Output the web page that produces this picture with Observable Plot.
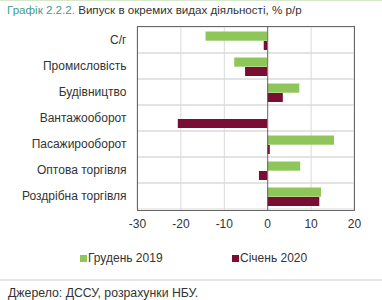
<!DOCTYPE html>
<html><head><meta charset="utf-8">
<script src="https://cdn.jsdelivr.net/npm/d3@7"></script>
<script src="https://cdn.jsdelivr.net/npm/@observablehq/plot@0.6"></script>
<style>
html,body{margin:0;padding:0;background:#fff;}
#wrap{position:relative;width:382px;height:300px;overflow:hidden;font-family:"Liberation Sans",Arial,sans-serif;color:#333;border-top:1px solid #d6e8cc;box-sizing:border-box;}
#title{position:absolute;left:7px;top:2px;font-size:11.6px;white-space:nowrap;color:#333;}
#title .num{color:#3f9c8a;}
#chart{position:absolute;left:0;top:17px;}
#legend{position:absolute;top:250px;left:0;width:382px;font-size:12px;}
#legend .item{position:absolute;white-space:nowrap;}
#legend .sw{display:inline-block;width:7px;height:7px;margin-right:1px;}
#sep{position:absolute;left:0;top:278px;width:382px;height:2px;background:#e6e6e6;}
#source{position:absolute;left:8px;top:285px;font-size:12.3px;white-space:nowrap;color:#333;}
</style></head>
<body><div id="wrap">
<div id="title"><span class="num">Графік 2.2.2.</span> Випуск в окремих видах діяльності, % р/р</div>
<div id="chart"></div>
<div id="legend"></div>
<div id="sep"></div>
<div id="source">Джерело: ДССУ, розрахунки НБУ.</div>
</div>
<script>
const categories = ["С/г","Промисловість","Будівництво","Вантажооборот","Пасажирооборот","Оптова торгівля","Роздрібна торгівля"];
const seriesNames = ["Грудень 2019","Січень 2020"];
const dec2019 = [-14.2,-7.6,7.4,0,15.4,7.6,12.4];
const jan2020 = [-0.8,-5.1,3.6,-20.6,0.6,-1.9,12.0];
const xTicks = [-30,-20,-10,0,10,20];
const colors = ["#8fc65a","#7b0c34"];

const green = categories.map((c,i)=>({cat:c, v:dec2019[i]}));
const red = categories.map((c,i)=>({cat:c, v:jan2020[i]}));

const plot = Plot.plot({
  width: 382,
  height: 216,
  marginTop: 8,
  marginBottom: 24,
  marginLeft: 137,
  marginRight: 28,
  style: {fontFamily: '"Liberation Sans",Arial,sans-serif', fontSize: "12px", color: "#333", background: "transparent"},
  x: {domain: [-30,20], ticks: xTicks, tickFormat: d => String(d), label: null, tickSize: 0, tickPadding: 9},
  y: {domain: categories, label: null, tickSize: 0, tickPadding: 11, paddingInner: 0, paddingOuter: 0},
  marks: [
    Plot.barX(categories, {y: d=>d, x1: -30, x2: 20, fill: "none", stroke: "#d9d9d9", strokeWidth: 1}),
    Plot.ruleX([-20,-10,10], {stroke: "#d9d9d9"}),
    Plot.barX(green, {y: "cat", x: "v", fill: colors[0], insetTop: 4.5, insetBottom: 12.3}),
    Plot.barX(red, {y: "cat", x: "v", fill: colors[1], insetTop: 14, insetBottom: 3}),
    Plot.ruleX([0], {stroke: "#666", strokeWidth: 1}),
    Plot.frame({stroke: "#666", strokeWidth: 1})
  ]
});
document.getElementById("chart").appendChild(plot);

const leg = document.getElementById("legend");
const lefts = [80, 232];
seriesNames.forEach((n,i)=>{
  const d = document.createElement("div");
  d.className = "item";
  d.style.left = lefts[i] + "px";
  d.innerHTML = `<span class="sw" style="background:${colors[i]}"></span>${n}`;
  leg.appendChild(d);
});
</script>
</body></html>
